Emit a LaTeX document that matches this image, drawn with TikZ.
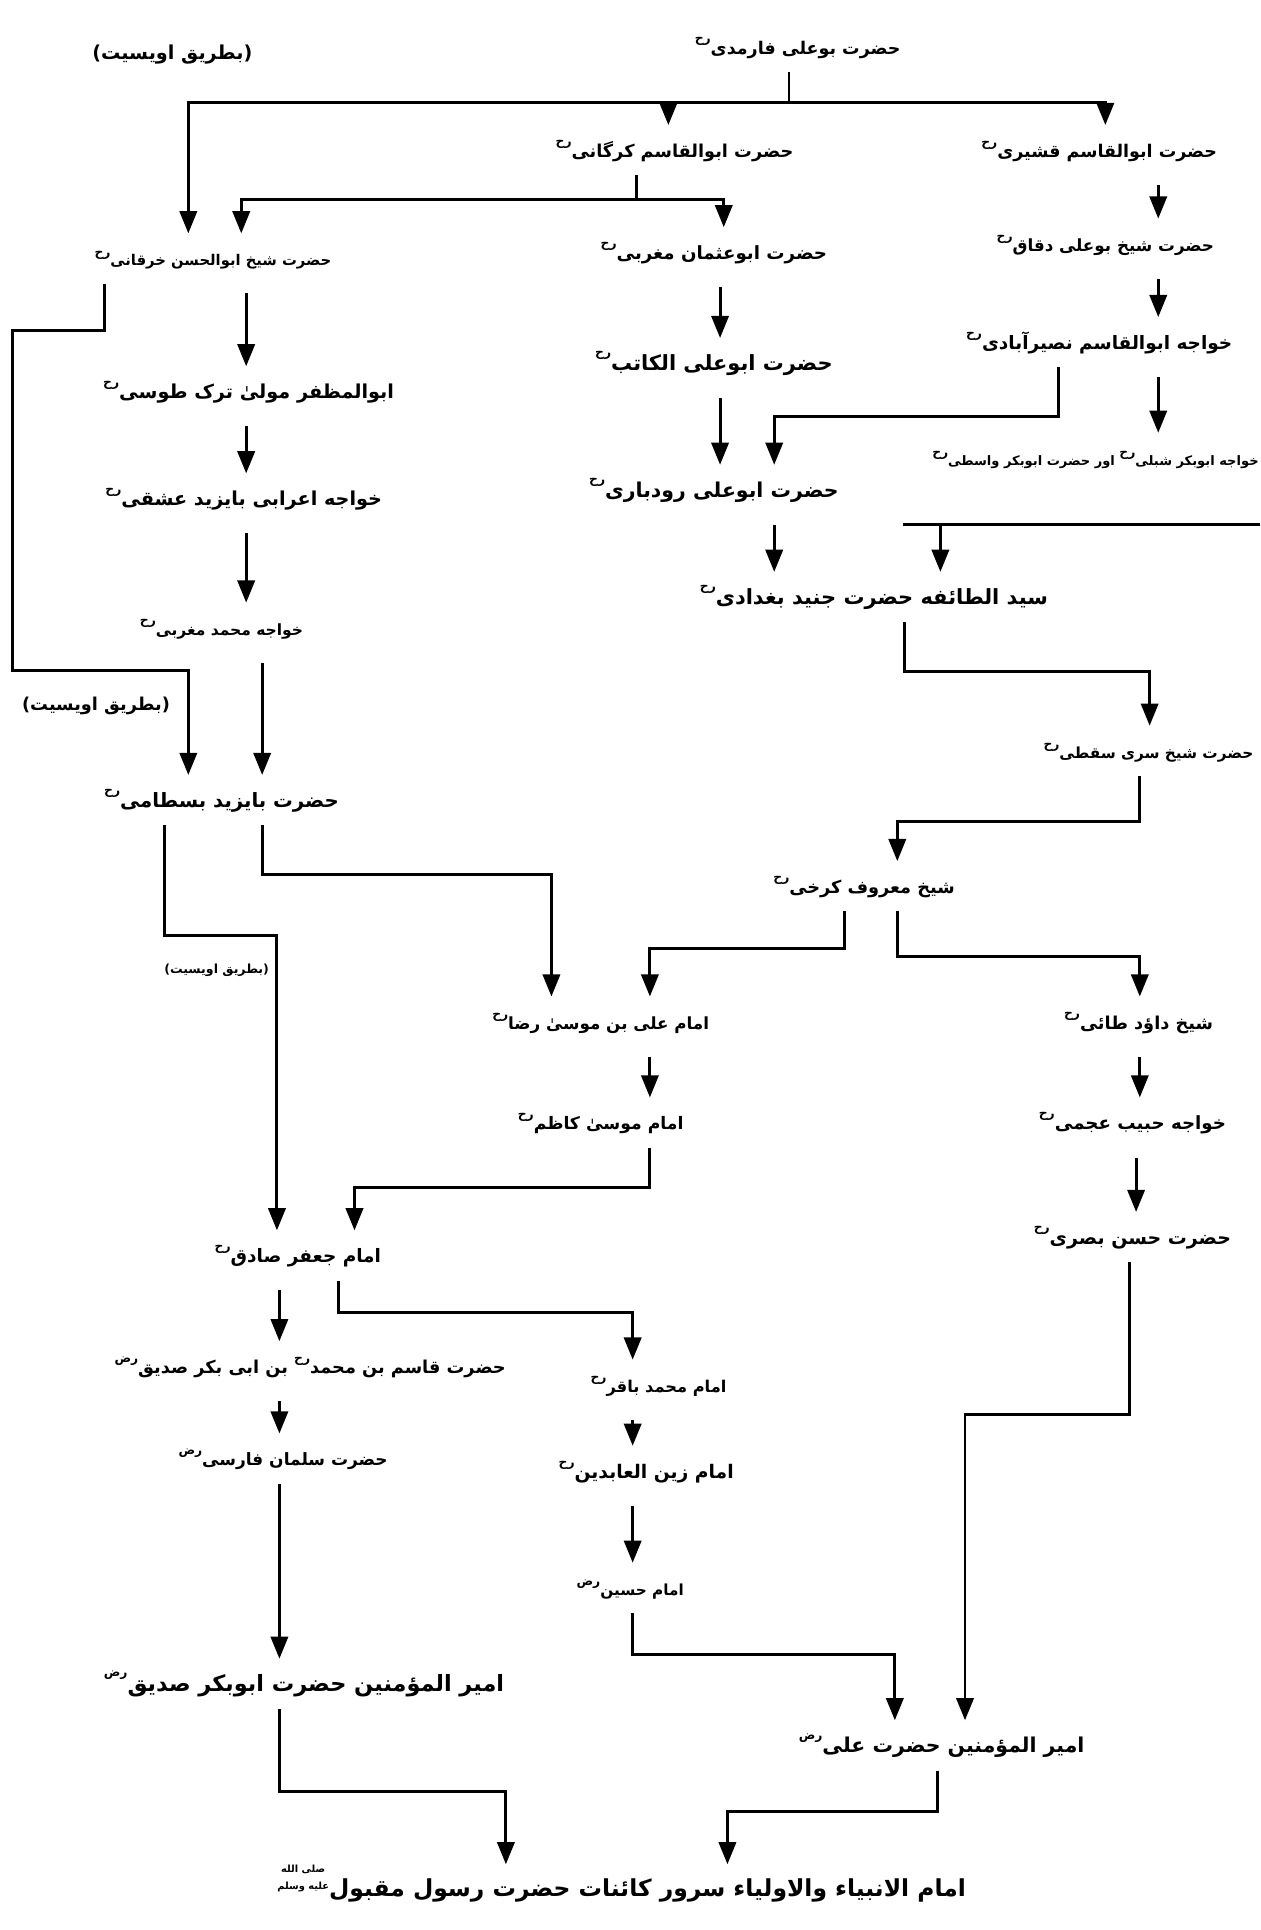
\documentclass[tikz,border=0pt]{standalone}
\usepackage{fontspec}
\newfontfamily\urdu[Script=Arabic]{DejaVu Sans}
\TeXXeTstate=1
\usetikzlibrary{arrows.meta,calc}
\newcommand{\ur}[1]{\beginR#1\endR}
\newcommand{\rh}{\raisebox{1.2ex}{\fontsize{5}{5}\selectfont رح}}
\newcommand{\rd}{\raisebox{1.2ex}{\fontsize{5}{5}\selectfont رض}}
\newcommand{\saw}{\raisebox{0.6ex}{\fontsize{4}{4}\selectfont\shortstack{\beginR صلی الله\endR\\\beginR علیه وسلم\endR}}}

\begin{document}
\begin{tikzpicture}[x=0.5pt,y=-0.5pt,
    nm/.style={font={\urdu\bfseries\fontsize{#1}{#1}\selectfont},inner sep=2pt,text height=11pt,text depth=5pt},
    nm/.default=7,
    ln/.style={line width=1.2pt},
    arr/.style={ln,-{Triangle[length=9pt,width=7pt]}},
    chain/.style={arr,shorten <=4pt}]
    \useasboundingbox (0,0) rectangle (1024,1568);

    % top
    \node[nm=7.1](faramadi)at(648,38){\ur{حضرت بوعلی فارمدی\rh}};
    \node[nm=7.8](uwaysi1)at(140,42){\ur{(بطریق اویسیت)}};
    \node[nm=7.2](kargani)at(548,122){\ur{حضرت ابوالقاسم کرگانی\rh}};
    \node[nm=7.1](qushayri)at(893,122){\ur{حضرت ابوالقاسم قشیری\rh}};
    \node[nm=6](kharqani)at(173,210){\ur{حضرت شیخ ابوالحسن خرقانی\rh}};
    \node[nm=7.4](uthman)at(580,205){\ur{حضرت ابوعثمان مغربی\rh}};
    \node[nm=6.8](daqqaq)at(898,198){\ur{حضرت شیخ بوعلی دقاق\rh}};
    \node[nm=7.8](tusi)at(202,318){\ur{ابوالمظفر مولیٰ ترک طوسی\rh}};
    \node[nm=8.5](katib)at(580,295){\ur{حضرت ابوعلی الکاتب\rh}};
    \node[nm=7.5](nasrabadi)at(893,278){\ur{خواجه ابوالقاسم نصیرآبادی\rh}};
    \node[nm=5.3](shibli)at(890,372){\ur{خواجه ابوبکر شبلی\rh{} اور حضرت ابوبکر واسطی\rh}};
    \node[nm=7.8](ishqi)at(198,405){\ur{خواجه اعرابی بایزید عشقی\rh}};
    \node[nm=8.3](rudbari)at(580,398){\ur{حضرت ابوعلی رودباری\rh}};
    \node[nm=8.5](junaid)at(710,485){\ur{سید الطائفه حضرت جنید بغدادی\rh}};
    \node[nm=6.3](maghribi)at(180,510){\ur{خواجه محمد مغربی\rh}};
    \node[nm=7.2](uwaysi2)at(78,571){\ur{(بطریق اویسیت)}};
    \node[nm=6.2](saqati)at(933,610){\ur{حضرت شیخ سری سقطی\rh}};
    \node[nm=8](bistami)at(180,650){\ur{حضرت بایزید بسطامی\rh}};
    \node[nm=7.2](karkhi)at(702,720){\ur{شیخ معروف کرخی\rh}};
    \node[nm=5.1](uwaysi3)at(176,785){\ur{(بطریق اویسیت)}};
    \node[nm=6.8](raza)at(488,830){\ur{امام علی بن موسیٰ رضا\rh}};
    \node[nm=7.2](tai)at(925,830){\ur{شیخ داؤد طائی\rh}};
    \node[nm=7](kazim)at(488,912){\ur{امام موسیٰ کاظم\rh}};
    \node[nm=7.4](ajami)at(920,912){\ur{خواجه حبیب عجمی\rh}};
    \node[nm=7.5](sadiq)at(242,1020){\ur{امام جعفر صادق\rh}};
    \node[nm=7.7](basri)at(920,1005){\ur{حضرت حسن بصری\rh}};
    \node[nm=7.2](qasim)at(252,1110){\ur{حضرت قاسم بن محمد\rh{} بن ابی بکر صدیق\rd}};
    \node[nm=6.6](baqir)at(535,1125){\ur{امام محمد باقر\rh}};
    \node[nm=6.9](salman)at(230,1185){\ur{حضرت سلمان فارسی\rd}};
    \node[nm=7.6](zain)at(525,1195){\ur{امام زین العابدین\rh}};
    \node[nm=6.2](husain)at(512,1290){\ur{امام حسین\rd}};
    \node[nm=9.1](abubakr)at(247,1368){\ur{امیر المؤمنین حضرت ابوبکر صدیق\rd}};
    \node[nm=8.3](ali)at(765,1418){\ur{امیر المؤمنین حضرت علی\rd}};
    \node[nm=9.5](rasul)at(505,1535){\ur{امام الانبیاء والاولیاء سرور کائنات حضرت رسول مقبول\saw}};

    % branches from the top
    \coordinate(j1)at(641,83);
    \draw[ln](faramadi.south -| j1)--(j1);
    \draw[arr](j1)-|($(kharqani.north)+(-20,0)$);
    \draw[arr](j1)-|($(kargani.north)+(-5,0)$);
    \draw[arr](j1)-|($(qushayri.north)+(5,0)$);
    \coordinate(j2)at(517,162);
    \draw[ln](kargani.south -| j2)--(j2);
    \draw[arr](j2)-|($(kharqani.north)+(23,0)$);
    \draw[arr](j2)-|($(uthman.north)+(8,0)$);

    % left column
    \draw[chain]($(kharqani.south)+(27,0)$)--($(tusi.north)+(-2,0)$);
    \draw[chain]($(tusi.south)+(-2,0)$)--($(ishqi.north)+(2,0)$);
    \draw[chain]($(ishqi.south)+(2,0)$)--($(maghribi.north)+(20,0)$);
    \draw[chain]($(maghribi.south)+(33,0)$)--($(bistami.north)+(33,0)$);
    \draw[arr]($(kharqani.south)+(-88,0)$)--++(0,38)-|(10,545)-|($(bistami.north)+(-27,0)$);

    % middle and right columns
    \draw[chain]($(uthman.south)+(5,0)$)--($(katib.north)+(5,0)$);
    \draw[chain]($(katib.south)+(5,0)$)--($(rudbari.north)+(5,0)$);
    \draw[chain]($(qushayri.south)+(48,0)$)--($(daqqaq.north)+(43,0)$);
    \draw[chain]($(daqqaq.south)+(43,0)$)--($(nasrabadi.north)+(48,0)$);
    \draw[chain]($(nasrabadi.south)+(48,0)$)--($(shibli.north)+(51,0)$);
    \draw[arr]($(nasrabadi.south)+(-33,0)$)--++(0,40)-|($(rudbari.north)+(49,0)$);
    \draw[chain]($(rudbari.south)+(49,0)$)--($(junaid.north)+(-81,0)$);
    \coordinate(edge)at(1024,426);
    \draw[arr](edge)--(734,426)(764,426)--($(junaid.north)+(54,0)$);
    \draw[arr]($(junaid.south)+(25,0)$)--++(0,40)-|($(saqati.north)+(1,0)$);
    \draw[arr]($(saqati.south)+(-7,0)$)--++(0,37)-|($(karkhi.north)+(27,0)$);
    \draw[arr]($(karkhi.south)+(-16,0)$)--++(0,30)-|($(raza.north)+(40,0)$);
    \draw[arr]($(karkhi.south)+(27,0)$)--++(0,37)-|($(tai.north)+(1,0)$);
    \draw[arr]($(bistami.south)+(33,0)$)--++(0,40)-|($(raza.north)+(-40,0)$);
    \draw[arr]($(bistami.south)+(-46,0)$)--++(0,90)-|($(sadiq.north)+(-17,0)$);
    \draw[chain]($(raza.south)+(40,0)$)--($(kazim.north)+(40,0)$);
    \draw[chain]($(tai.south)+(1,0)$)--($(ajami.north)+(6,0)$);
    \draw[chain]($(ajami.south)+(3,0)$)--($(basri.north)+(3,0)$);
    \draw[arr]($(kazim.south)+(40,0)$)--++(0,32)-|($(sadiq.north)+(46,0)$);

    % lower part
    \draw[chain]($(sadiq.south)+(-15,0)$)--($(qasim.north)+(-25,0)$);
    \draw[arr]($(sadiq.south)+(33,0)$)--++(0,26)-|($(baqir.north)+(-21,0)$);
    \draw[chain]($(qasim.south)+(-25,0)$)--($(salman.north)+(-3,0)$);
    \draw[arr]($(salman.south)+(-3,0)$)--($(abubakr.north)+(-20,0)$);
    \draw[chain]($(baqir.south)+(-21,0)$)--($(zain.north)+(-11,0)$);
    \draw[chain]($(zain.south)+(-11,0)$)--($(husain.north)+(2,0)$);
    \draw[arr]($(husain.south)+(2,0)$)--++(0,34)-|($(ali.north)+(-38,0)$);
    \draw[arr]($(basri.south)+(-2,0)$)--++(0,124)-|($(ali.north)+(19,0)$);
    \draw[arr]($(abubakr.south)+(-20,0)$)--++(0,67)-|($(rasul.north)+(-94,0)$);
    \draw[arr]($(ali.south)+(-3,0)$)--++(0,33)-|($(rasul.north)+(86,0)$);
\end{tikzpicture}
\end{document}
